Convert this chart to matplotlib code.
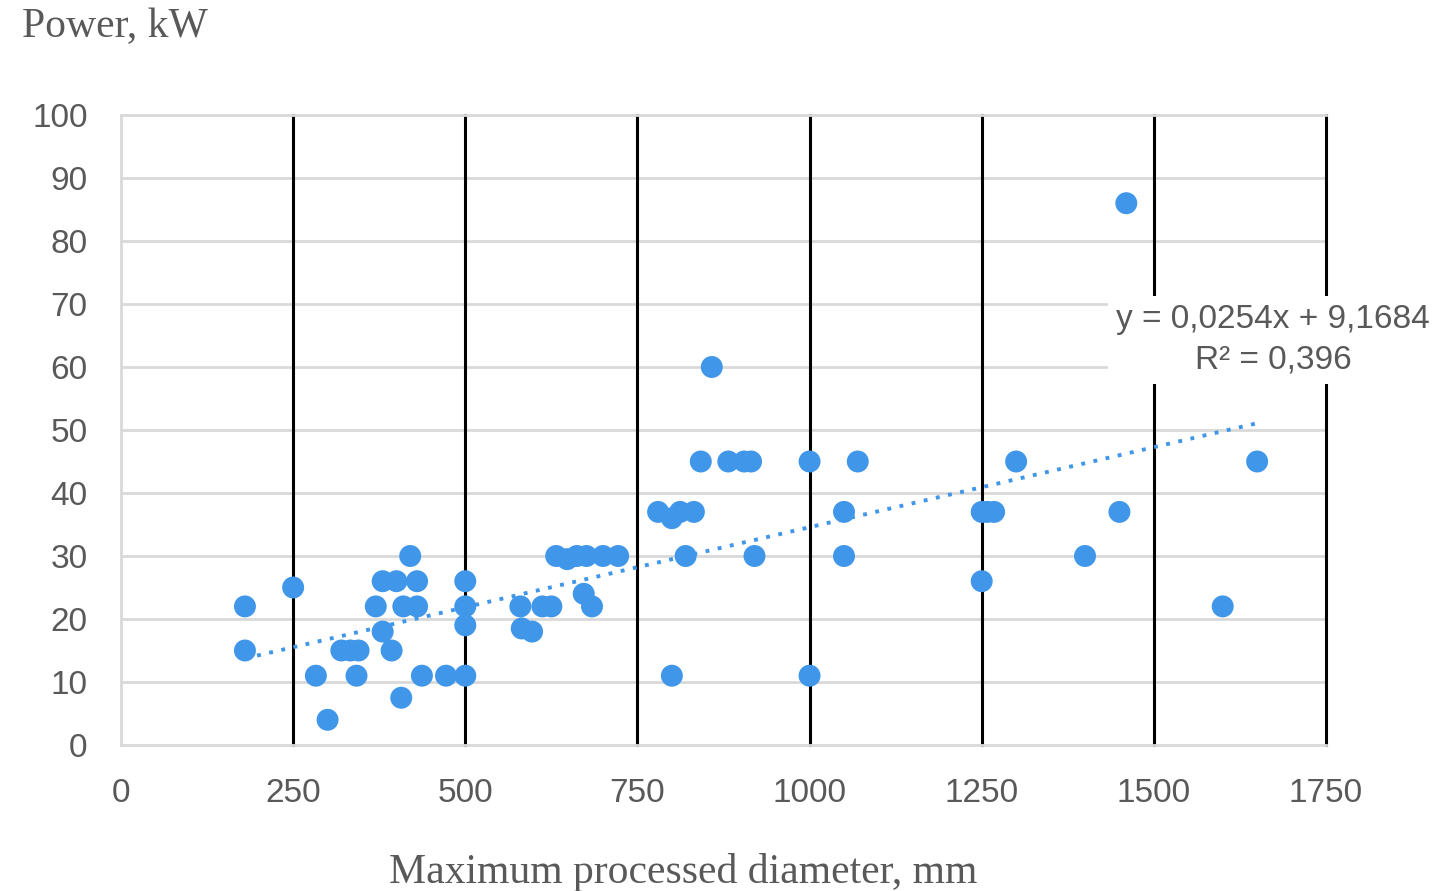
import numpy as np
import matplotlib
matplotlib.use("Agg")
from matplotlib import pyplot as plt

# data
diameter = [180, 180, 250, 283, 300, 320, 333, 345, 342, 370,
            380, 380, 393, 400, 407, 410, 420, 430, 430, 437,
            472, 500, 500, 500, 500, 580, 582, 597, 612, 625,
            632, 648, 662, 676, 700, 722, 672, 684, 780, 800,
            812, 832, 800, 820, 842, 858, 882, 905, 915, 920,
            1000, 1000, 1050, 1050, 1070, 1250, 1258, 1268, 1250, 1300,
            1400, 1450, 1460, 1600, 1650]
power = [22, 15, 25, 11, 4, 15, 15, 15, 11, 22,
         26, 18, 15, 26, 7.5, 22, 30, 22, 26, 11,
         11, 26, 22, 19, 11, 22, 18.5, 18, 22, 22,
         30, 29.5, 30, 30, 30, 30, 24, 22, 37, 36,
         37, 37, 11, 30, 45, 60, 45, 45, 45, 30,
         45, 11, 37, 30, 45, 37, 37, 37, 26, 45,
         30, 37, 86, 22, 45]
slope, intercept = 0.0254, 9.1684
eq_text = "y = 0,0254x + 9,1684\nR² = 0,396"

xticks = [0, 250, 500, 750, 1000, 1250, 1500, 1750]
yticks = list(range(0, 101, 10))

gray = "#595959"
blue = "#4096E8"

fig = plt.figure(figsize=(14.53, 8.91), dpi=100)
ax = fig.add_axes([121/1453, 1-745/891, (1326-121)/1453, (745-115)/891])

for y in yticks[1:]:
    ax.axhline(y, color="#d9d9d9", lw=2, zorder=1)
for x in xticks[1:]:
    ax.axvline(x, color="black", lw=2.2, zorder=1, clip_on=False)

ax.scatter(diameter, power, s=250, color=blue, edgecolors="none", zorder=3)

xs = np.array([min(diameter), max(diameter)])
ax.plot(xs, slope*xs + intercept, color=blue, lw=2.8,
        linestyle=(0, (1, 2.2)), zorder=4)

ax.set_xlim(0, 1750)
ax.set_ylim(0, 100)
ax.set_xticks(xticks)
ax.set_yticks(yticks)
for s in ["left", "bottom", "top"]:
    ax.spines[s].set_color("#d9d9d9")
    ax.spines[s].set_linewidth(2)
ax.spines["right"].set_visible(False)
ax.tick_params(length=0, labelsize=24, labelcolor=gray, pad=24)
for lab in ax.get_xticklabels() + ax.get_yticklabels():
    lab.set_family("Liberation Sans")

ax.text(1673, 64.3, eq_text, ha="center", va="center", fontsize=24,
        family="Liberation Sans", color=gray, linespacing=1.4,
        bbox=dict(facecolor="white", edgecolor="none", pad=6),
        clip_on=False, zorder=5)

fig.text(22/1453, 1-27/891, "Power, kW", fontsize=30, family="Liberation Serif",
         color=gray, ha="left", va="center")
fig.text(683/1453, 1-872/891, "Maximum processed diameter, mm", fontsize=30,
         family="Liberation Serif", color=gray, ha="center", va="center")

fig.savefig("out.png", dpi=100)
